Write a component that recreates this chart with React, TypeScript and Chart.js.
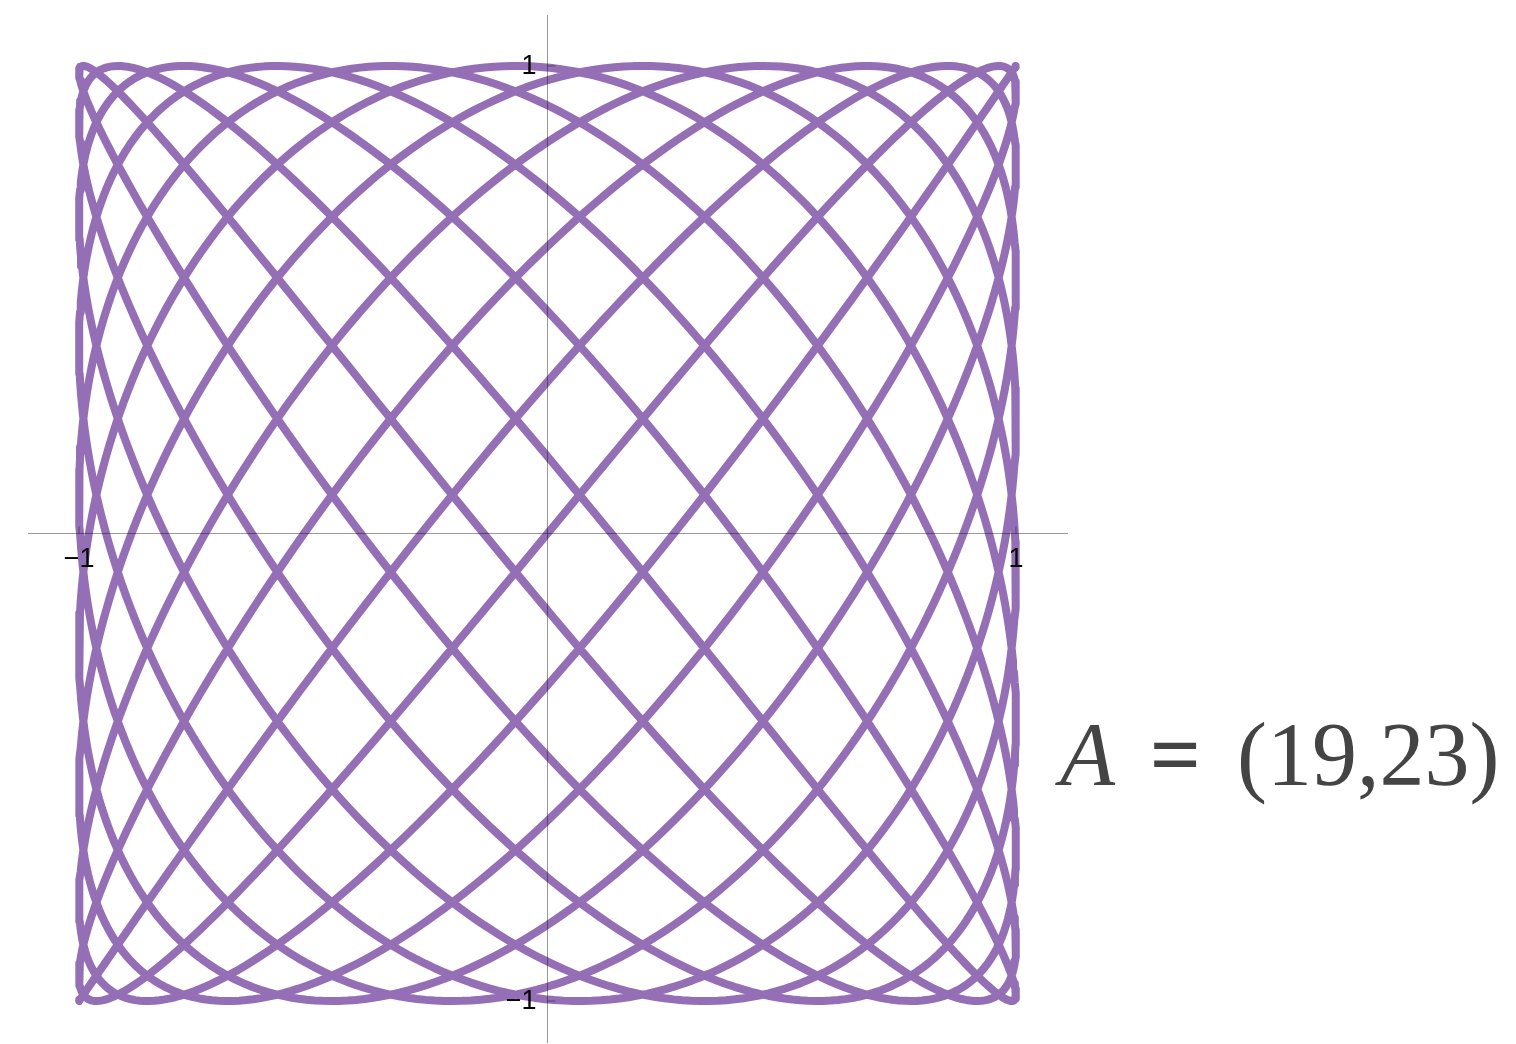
import { useEffect, useRef } from "react";
import { Chart, registerables } from "chart.js";

Chart.register(...registerables);

// Curve parameters: x = cos(a·s), y = cos(b·s), s ∈ [0, π]
const FREQUENCY_PAIR = [19, 23];
const SAMPLE_COUNT = 3000;

// Axis ranges and tick values
const X_RANGE = [-1.1089, 1.111];
const Y_RANGE = [-1.0898, 1.109];
const X_TICKS = [-1, 1];
const Y_TICKS = [-1, 1];

const LINE_COLOR = "rgb(149,111,181)";
const LABEL_PREFIX = "A";
const LABEL_VALUE = `(${FREQUENCY_PAIR[0]},${FREQUENCY_PAIR[1]})`;

const curvePoints = Array.from({ length: SAMPLE_COUNT + 1 }, (_, i) => {
  const s = (Math.PI * i) / SAMPLE_COUNT;
  return {
    x: Math.cos(FREQUENCY_PAIR[0] * s),
    y: Math.cos(FREQUENCY_PAIR[1] * s),
  };
});

const formatTick = (v: number) => (v < 0 ? "\u2212" + Math.abs(v) : String(v));

const centerAxesPlugin = {
  id: "centerAxes",
  afterDatasetsDraw(chart: any) {
    const { ctx, chartArea } = chart;
    const xs = chart.scales.x;
    const ys = chart.scales.y;
    const x0 = xs.getPixelForValue(0);
    const y0 = ys.getPixelForValue(0);
    ctx.save();
    ctx.strokeStyle = "rgba(0,0,0,0.4)";
    ctx.lineWidth = 1;
    ctx.beginPath();
    ctx.moveTo(chartArea.left, y0);
    ctx.lineTo(chartArea.right, y0);
    ctx.moveTo(x0, chartArea.top);
    ctx.lineTo(x0, chartArea.bottom);
    X_TICKS.forEach((v) => {
      const px = xs.getPixelForValue(v);
      ctx.moveTo(px, y0);
      ctx.lineTo(px, y0 - 7);
    });
    Y_TICKS.forEach((v) => {
      const py = ys.getPixelForValue(v);
      ctx.moveTo(x0, py);
      ctx.lineTo(x0 + 8, py);
    });
    ctx.stroke();

    ctx.fillStyle = "#000";
    ctx.font = '27px "Liberation Sans", Arial, sans-serif';
    ctx.textAlign = "center";
    ctx.textBaseline = "middle";
    X_TICKS.forEach((v) => {
      const px = xs.getPixelForValue(v);
      ctx.fillText(formatTick(v), px, y0 + 26);
    });
    ctx.textAlign = "right";
    Y_TICKS.forEach((v) => {
      const py = ys.getPixelForValue(v);
      ctx.fillText(formatTick(v), x0 - 11, py + 1);
    });
    ctx.restore();
  },
  afterDraw(chart: any) {
    const { ctx } = chart;
    ctx.save();
    ctx.fillStyle = "#444";
    ctx.textBaseline = "alphabetic";
    ctx.textAlign = "left";
    ctx.font = 'italic 90px "Liberation Serif", "Times New Roman", serif';
    ctx.fillText(LABEL_PREFIX, 1060, 785);
    ctx.font = 'bold 90px "Liberation Serif", "Times New Roman", serif';
    ctx.textAlign = "center";
    ctx.fillText("=", 1175.5, 785);
    ctx.font = '90px "Liberation Serif", "Times New Roman", serif';
    ctx.textAlign = "left";
    ctx.fillText(LABEL_VALUE, 1237, 785);
    ctx.restore();
  },
};

export default function App() {
  const canvasRef = useRef<HTMLCanvasElement | null>(null);

  useEffect(() => {
    const canvas = canvasRef.current;
    if (!canvas) return;
    const chart = new Chart(canvas, {
      type: "scatter",
      data: {
        datasets: [
          {
            data: curvePoints,
            showLine: true,
            borderColor: LINE_COLOR,
            backgroundColor: LINE_COLOR,
            borderWidth: 8,
            pointRadius: 0,
            pointHoverRadius: 0,
            tension: 0,
            borderJoinStyle: "round",
            borderCapStyle: "butt",
          },
        ],
      },
      options: {
        animation: false,
        responsive: false,
        devicePixelRatio: 1,
        events: [],
        layout: { padding: { left: 28, right: 448, top: 15, bottom: 1 } },
        plugins: {
          legend: { display: false },
          tooltip: { enabled: false },
          title: { display: false },
        },
        scales: {
          x: { type: "linear", min: X_RANGE[0], max: X_RANGE[1], display: false },
          y: { type: "linear", min: Y_RANGE[0], max: Y_RANGE[1], display: false },
        },
      },
      plugins: [centerAxesPlugin],
    });
    return () => chart.destroy();
  }, []);

  return (
    <div style={{ position: "fixed", left: 0, top: 0, width: 1516, height: 1044, background: "#fff" }}>
      <canvas ref={canvasRef} width={1516} height={1044} style={{ display: "block" }} />
    </div>
  );
}
